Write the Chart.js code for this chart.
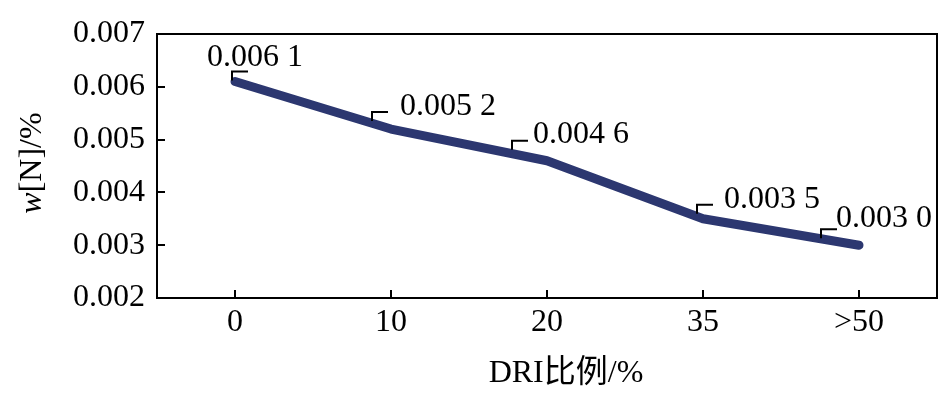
<!DOCTYPE html>
<html>
<head>
<meta charset="utf-8">
<title>DRI ratio vs w[N]</title>
<script src="https://cdn.jsdelivr.net/npm/chart.js@4.4.1/dist/chart.umd.min.js"></script>
<style>
    html, body { margin: 0; padding: 0; background: #fff; }
    #wrap { width: 946px; height: 414px; }
</style>
</head>
<body>
<div id="wrap"><canvas id="chart" width="946" height="414"></canvas></div>
<script>
// Chart data
const driRatios = ['0', '10', '20', '35', '>50'];
const nitrogenContent = [0.0061, 0.0052, 0.0046, 0.0035, 0.0030];
const yTicks = [0.002, 0.003, 0.004, 0.005, 0.006, 0.007];

// Label placement relative to each point (bracket + text), in pixels
const labelOffsets = [
    { bx: -3,  by: -10, tx: -28, ty: -24 },
    { bx: -19, by: -17, tx: 9,   ty: -22 },
    { bx: -35, by: -20, tx: -14, ty: -26 },
    { bx: -6,  by: -14, tx: 21,  ty: -19 },
    { bx: -38, by: -16, tx: -23, ty: -27 }
];

const FONT = '"Liberation Serif", "Times New Roman", serif';
const FONT_SIZE = 32;
const LINE_COLOR = '#2c3770';

// "0.0061" -> "0.006 1"
function formatLabel(v) {
    const s = v.toFixed(4);
    return s.slice(0, -1) + ' ' + s.slice(-1);
}

// Frame, inward ticks, value labels and axis titles
const decorations = {
    id: 'decorations',
    afterDraw(chart) {
        const ctx = chart.ctx;
        const area = chart.chartArea;
        const xs = chart.scales.x;
        const ys = chart.scales.y;

        ctx.save();
        ctx.strokeStyle = '#000';
        ctx.lineWidth = 2;
        ctx.strokeRect(area.left, area.top, area.right - area.left, area.bottom - area.top);

        // inward ticks
        ctx.beginPath();
        yTicks.forEach(v => {
            const y = Math.round(ys.getPixelForValue(v));
            ctx.moveTo(area.left, y);
            ctx.lineTo(area.left + 8, y);
        });
        driRatios.forEach((c, i) => {
            const x = Math.round(xs.getPixelForValue(i));
            ctx.moveTo(x, area.bottom);
            ctx.lineTo(x, area.bottom - 8);
        });
        ctx.stroke();

        // value labels with bracket leaders
        const meta = chart.getDatasetMeta(0);
        ctx.font = FONT_SIZE + 'px ' + FONT;
        ctx.fillStyle = '#000';
        ctx.textAlign = 'left';
        ctx.textBaseline = 'middle';
        ctx.lineWidth = 2;
        meta.data.forEach((pt, i) => {
            const o = labelOffsets[i];
            const bx = pt.x + o.bx;
            const by = pt.y + o.by;
            ctx.beginPath();
            ctx.moveTo(bx, by + 9);
            ctx.lineTo(bx, by);
            ctx.lineTo(bx + 16, by);
            ctx.stroke();
            ctx.fillText(formatLabel(nitrogenContent[i]), pt.x + o.tx, pt.y + o.ty);
        });

        // x axis title
        ctx.textAlign = 'center';
        ctx.font = FONT_SIZE + 'px ' + FONT + ', "Noto Sans CJK SC"';
        ctx.fillText('DRI比例/%', 566, 374);

        // y axis title (italic w)
        ctx.translate(33, 163);
        ctx.rotate(-Math.PI / 2);
        ctx.textAlign = 'left';
        ctx.font = 'italic ' + FONT_SIZE + 'px ' + FONT;
        const w1 = ctx.measureText('w').width;
        ctx.font = FONT_SIZE + 'px ' + FONT;
        const w2 = ctx.measureText('[N]/%').width;
        const start = -(w1 + w2) / 2;
        ctx.font = 'italic ' + FONT_SIZE + 'px ' + FONT;
        ctx.fillText('w', start, 0);
        ctx.font = FONT_SIZE + 'px ' + FONT;
        ctx.fillText('[N]/%', start + w1, 0);
        ctx.restore();
    }
};

function renderChart() {
    const ctx = document.getElementById('chart');
    new Chart(ctx, {
        type: 'line',
        data: {
            labels: driRatios,
            datasets: [{
                data: nitrogenContent,
                borderColor: LINE_COLOR,
                borderWidth: 9,
                borderCapStyle: 'round',
                borderJoinStyle: 'round',
                pointRadius: 0,
                tension: 0,
                fill: false
            }]
        },
        options: {
            responsive: false,
            animation: false,
            devicePixelRatio: 1,
            layout: {
                padding: { top: 34, right: 9, left: 0, bottom: 0 }
            },
            plugins: {
                legend: { display: false },
                tooltip: { enabled: false }
            },
            scales: {
                x: {
                    offset: true,
                    grid: { display: false, drawTicks: false },
                    border: { display: false },
                    ticks: {
                        color: '#000',
                        padding: 5,
                        font: { family: FONT, size: FONT_SIZE }
                    },
                    afterFit(scale) { scale.height = 116; }
                },
                y: {
                    min: 0.002,
                    max: 0.007,
                    grid: { display: false, drawTicks: false },
                    border: { display: false },
                    afterBuildTicks(scale) {
                        scale.ticks = yTicks.map(v => ({ value: v }));
                    },
                    ticks: {
                        color: '#000',
                        padding: 12,
                        font: { family: FONT, size: FONT_SIZE },
                        callback: v => Number(v).toFixed(3)
                    },
                    afterFit(scale) { scale.width = 157; }
                }
            }
        },
        plugins: [decorations]
    });
}

renderChart();
</script>
</body>
</html>
